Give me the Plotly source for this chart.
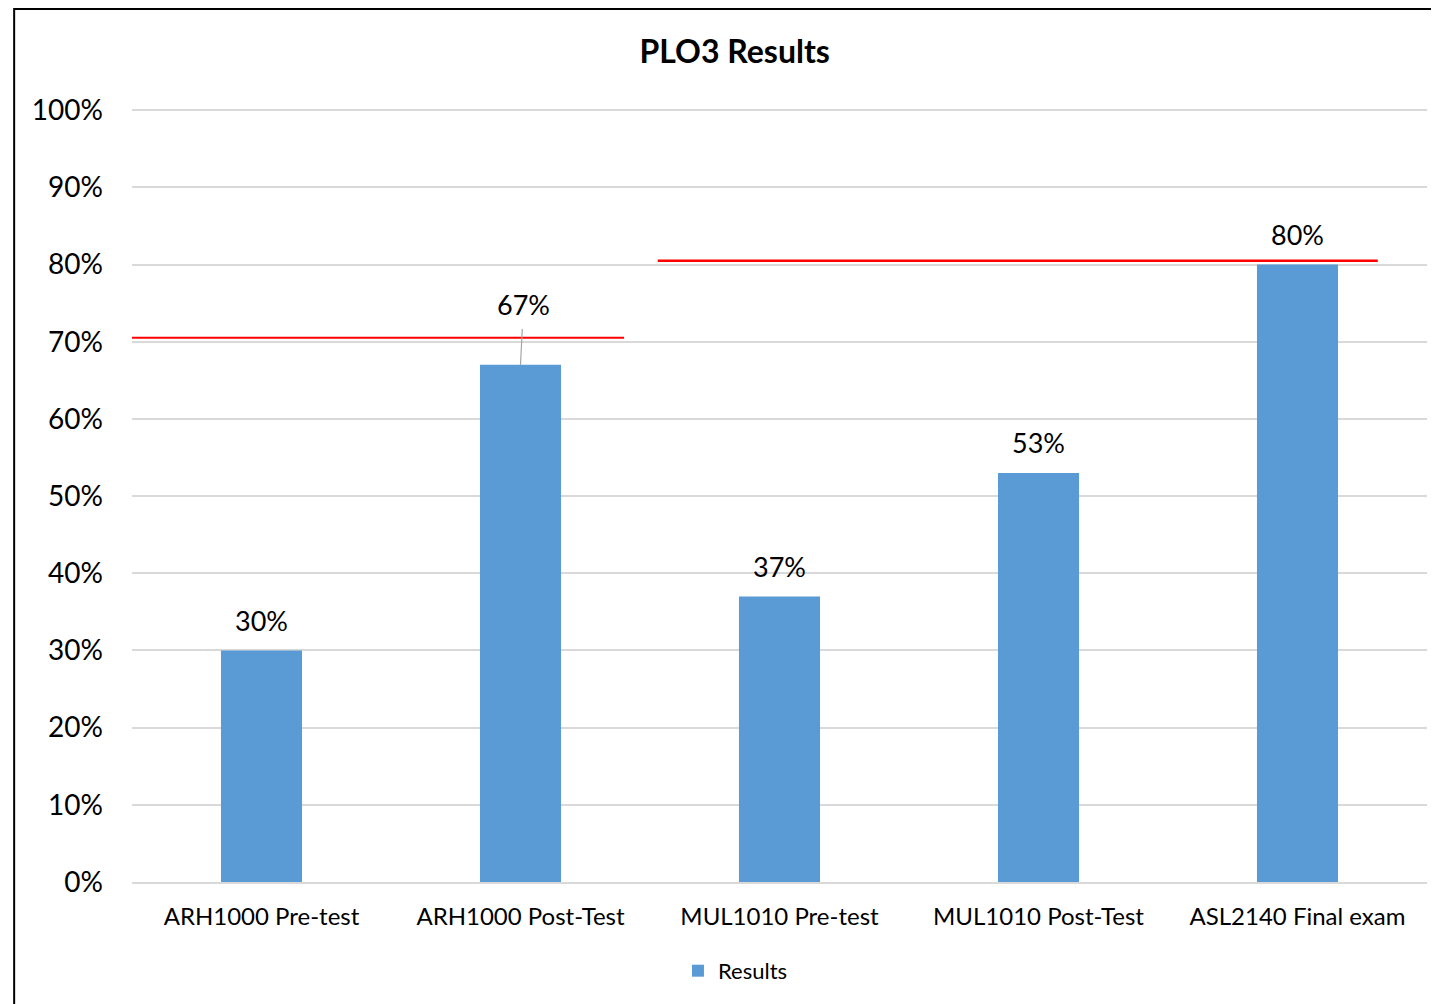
import plotly.graph_objects as go

# data
categories = ["ARH1000 Pre-test", "ARH1000 Post-Test", "MUL1010 Pre-test",
              "MUL1010 Post-Test", "ASL2140 Final exam"]
results = [0.30, 0.67, 0.37, 0.53, 0.80]
labels = ["30%", "67%", "37%", "53%", "80%"]
targets = [0.705, 0.805]

FONT = "Lato"
BAR_BLUE = "#5b9bd5"

fig = go.Figure()

fig.add_trace(go.Bar(
    x=categories,
    y=results,
    name="Results",
    marker=dict(color=BAR_BLUE, line=dict(width=0)),
    hoverinfo="x+y",
))

# value labels above the bars (the 67% one is pulled up with a leader line)
annotations = []
for i, (cat, val, lab) in enumerate(zip(categories, results, labels)):
    if i == 1:
        annotations.append(dict(
            x=cat, y=val, text=lab, showarrow=True, arrowhead=0,
            arrowwidth=1.2, arrowcolor="#a6a6a6", ax=3, ay=-60,
            startstandoff=6, font=dict(family=FONT, size=27, color="#000000"),
        ))
    else:
        annotations.append(dict(
            x=cat, y=val, text=lab, showarrow=False, yshift=30,
            font=dict(family=FONT, size=27, color="#000000"),
        ))

# target lines in red
shapes = [
    dict(type="line", xref="x", yref="y", x0=-0.51, x1=1.40,
         y0=targets[0], y1=targets[0], line=dict(color="#ff0000", width=2)),
    dict(type="line", xref="x", yref="y", x0=1.53, x1=4.31,
         y0=targets[1], y1=targets[1], line=dict(color="#ff0000", width=2.5)),
    # outer chart border
    dict(type="rect", xref="paper", yref="paper", x0=-0.091, x1=1.1,
         y0=-0.3, y1=1.1294, line=dict(color="#000000", width=2),
         fillcolor="rgba(0,0,0,0)", layer="below"),
]

fig.update_layout(
    width=1439,
    height=1004,
    paper_bgcolor="white",
    plot_bgcolor="white",
    margin=dict(l=124, r=20, t=101, b=130),
    font=dict(family=FONT, color="#000000"),
    title=dict(text="<b>PLO3 Results</b>", x=0.505, xanchor="center",
               xref="container", y=0.956, yanchor="middle",
               font=dict(family=FONT, size=32, color="#000000")),
    bargap=0.687,
    showlegend=True,
    legend=dict(orientation="h", x=0.466, xanchor="center", y=-0.115,
                yanchor="middle", font=dict(family=FONT, size=22),
                itemwidth=30),
    annotations=annotations,
    shapes=shapes,
    xaxis=dict(showgrid=False, showline=True, linecolor="#d9d9d9",
               linewidth=2, ticks="", tickfont=dict(family=FONT, size=24),
               ticklabelstandoff=12, range=[-0.5, 4.5]),
    yaxis=dict(range=[0, 1.0015], dtick=0.1, tickformat=".0%",
               showgrid=True, gridcolor="#d9d9d9", gridwidth=2,
               zeroline=False, showline=False, ticks="",
               ticklabelstandoff=28,
               tickfont=dict(family=FONT, size=28)),
)

fig.write_html("out.html")
